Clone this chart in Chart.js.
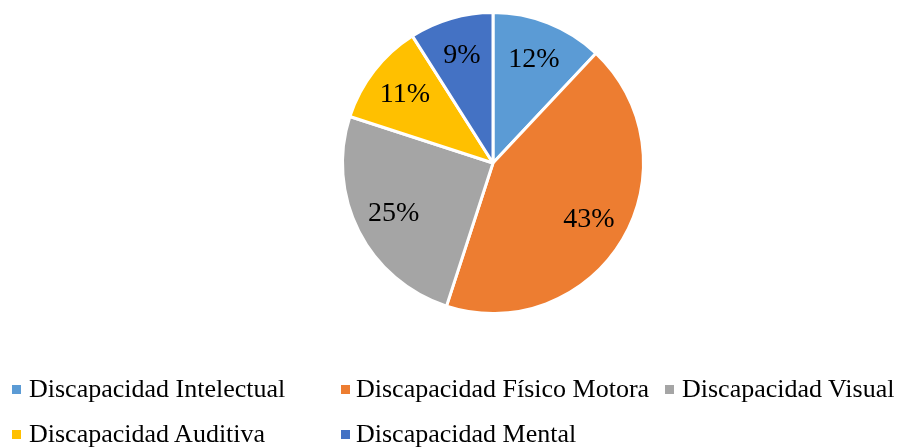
<!DOCTYPE html>
<html>
<head>
<meta charset="utf-8">
<script src="https://cdn.jsdelivr.net/npm/chart.js@4"></script>
<style>
  html, body { margin: 0; padding: 0; background: #fff; }
  #wrap { position: relative; width: 906px; height: 448px; overflow: hidden; }
  #pie { position: absolute; left: 0; top: 0; }
  .leg { position: absolute; font-family: "Liberation Serif", "Times New Roman", serif; font-size: 26px; color: #000; white-space: nowrap; line-height: 1; }
  .sw { position: absolute; width: 9px; height: 9px; }
</style>
</head>
<body>
<div id="wrap">
  <canvas id="pie" width="906" height="448"></canvas>
</div>
<script>
// Data
const categories = ['Discapacidad Intelectual', 'Discapacidad Físico Motora', 'Discapacidad Visual', 'Discapacidad Auditiva', 'Discapacidad Mental'];
const values = [12, 43, 25, 11, 9];
const colors = ['#5B9BD5', '#ED7D31', '#A5A5A5', '#FFC000', '#4472C4'];

// percentage labels inside slices
const sliceLabels = {
    id: 'sliceLabels',
    afterDatasetsDraw(chart) {
        const ctx = chart.ctx;
        const meta = chart.getDatasetMeta(0);
        const total = values.reduce((a, b) => a + b, 0);
        ctx.save();
        ctx.font = '28px "Liberation Serif", "Times New Roman", serif';
        ctx.fillStyle = '#000';
        ctx.textAlign = 'center';
        ctx.textBaseline = 'middle';
        meta.data.forEach((arc, i) => {
            const mid = (arc.startAngle + arc.endAngle) / 2;
            const r = arc.outerRadius * 0.74;
            const x = arc.x + Math.cos(mid) * r;
            const y = arc.y + Math.sin(mid) * r;
            ctx.fillText(Math.round(values[i] / total * 100) + '%', x, y);
        });
        ctx.restore();
    }
};

new Chart('pie', {
    type: 'pie',
    data: {
        labels: categories,
        datasets: [{
            data: values,
            backgroundColor: colors,
            borderColor: '#fff',
            borderWidth: 3
        }]
    },
    options: {
        responsive: false,
        animation: false,
        layout: { padding: { left: 341, right: 261, top: 11, bottom: 133 } },
        plugins: {
            legend: { display: false },
            tooltip: { enabled: false }
        }
    },
    plugins: [sliceLabels]
});

// Legend laid out in a grid like the original
const swatchX = [12, 341, 665];
const textX = [29, 356, 682];
const swatchY = [385, 430];
const textTop = [376, 421];
const wrap = document.getElementById('wrap');
categories.forEach((name, i) => {
    const col = i % 3, row = Math.floor(i / 3);
    const sw = document.createElement('div');
    sw.className = 'sw';
    sw.style.background = colors[i];
    sw.style.left = swatchX[col] + 'px';
    sw.style.top = swatchY[row] + 'px';
    wrap.appendChild(sw);
    const t = document.createElement('div');
    t.className = 'leg';
    t.textContent = name;
    t.style.left = textX[col] + 'px';
    t.style.top = textTop[row] + 'px';
    wrap.appendChild(t);
});
</script>
</body>
</html>
